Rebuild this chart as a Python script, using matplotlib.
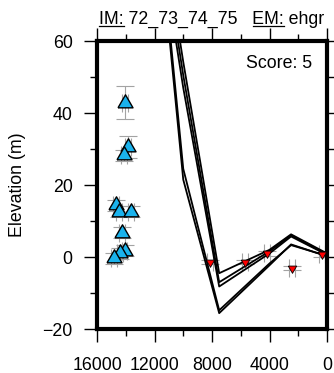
import matplotlib
matplotlib.use("Agg")
import matplotlib.pyplot as plt
from matplotlib.ticker import MultipleLocator
from matplotlib.lines import Line2D
import numpy as np

plt.rcParams['font.family'] = ['Liberation Sans', 'DejaVu Sans']
FS = 12.8

# Observed (blue) points
obs_dist = [14050, 13860, 14120, 14680, 14490, 13660, 14240, 14080, 14400, 14820]
obs_elev = [42.9, 30.6, 28.3, 14.4, 12.6, 12.6, 6.8, 1.8, 1.0, -0.4]
obs_yerr = [4.5, 3.0, 1.5, 1.5, 1.5, 1.5, 1.5, 1.5, 1.5, 1.5]
obs_xerr = [200] * 10

# Second data set (red)
pts_dist = [8140, 5700, 4200, 2410, 370]
pts_elev = [-1.4, -1.3, 1.0, -3.1, 0.7]
pts_yerr = [0.6, 0.6, 0.6, 0.6, 0.6]
pts_xerr = [200] * 5

# Model curves
curve_dist = [12000, 10000, 7500, 4000, 2500, 0]
curve_L1 = [103.5, 21.5, -15.6, -2.3, 3.5, 0.2]
curve_L2 = [106.0, 24.5, -14.8, -1.8, 3.3, 0.3]
curve_U1 = [105.0, 54.2, -4.5, 2.0, 6.3, 1.0]
curve_U2 = [101.5, 50.5, -7.0, 1.6, 6.0, 0.8]
curve_U3 = [98.0, 47.0, -8.2, 1.0, 5.7, 0.6]

title_im = "IM:"
title_mid = " 72_73_74_75   "
title_em = "EM:"
title_end = " ehgr"
score_text = "Score: 5"
ylabel = "Elevation (m)"

W, H = 334, 373
fig = plt.figure(figsize=(W / 100, H / 100), dpi=100)
ax = fig.add_axes([97 / W, 1 - 329 / H, 230 / W, 288 / H])

for c in [curve_L1, curve_L2, curve_U1, curve_U2, curve_U3]:
    ax.plot(curve_dist, c, color='black', lw=1.3, zorder=2)

ecol = '#a3a3a3'
ax.errorbar(obs_dist, obs_elev, xerr=obs_xerr, yerr=obs_yerr, fmt='none',
            ecolor=ecol, elinewidth=0.8, capsize=6.2, capthick=0.8, zorder=1.5)
ax.errorbar(pts_dist, pts_elev, xerr=pts_xerr, yerr=pts_yerr, fmt='none',
            ecolor=ecol, elinewidth=0.8, capsize=6.2, capthick=0.8, zorder=1.5)

up_tri = [(-1, -0.577), (1, -0.577), (0, 1.155), (-1, -0.577)]
down_tri = [(-1, 0.577), (1, 0.577), (0, -1.155), (-1, 0.577)]
ax.plot(obs_dist, obs_elev, linestyle='none', marker=up_tri, ms=12.5,
        mfc='#1ab2ec', mec='black', mew=1.0, zorder=3)
ax.plot(pts_dist, pts_elev, linestyle='none', marker=down_tri, ms=7.0,
        mfc='#ff0000', mec='black', mew=0.6, zorder=3)

ax.set_xlim(16000, 0)
ax.set_ylim(-20, 60)
ax.xaxis.set_major_locator(MultipleLocator(4000))
ax.xaxis.set_minor_locator(MultipleLocator(2000))
ax.yaxis.set_major_locator(MultipleLocator(20))
ax.yaxis.set_minor_locator(MultipleLocator(10))
ax.tick_params(which='both', direction='out', top=True, right=True,
               labeltop=False, labelright=False, width=1.0, labelsize=FS)
ax.tick_params(which='major', length=9.5)
ax.tick_params(which='minor', length=5)
ax.tick_params(axis='x', which='major', pad=10.5)
ax.tick_params(axis='y', which='major', pad=8)
ax.xaxis.set_major_formatter(plt.FuncFormatter(lambda v, p: f"{int(round(v))}"))
ax.yaxis.set_major_formatter(plt.FuncFormatter(lambda v, p: f"{int(round(v))}".replace('-', '\u2212')))
for s in ax.spines.values():
    s.set_linewidth(3.0)

ax.set_ylabel(ylabel, fontsize=FS, labelpad=12)
ax.text(0.935, 0.905, score_text, transform=ax.transAxes, ha='right',
        va='baseline', fontsize=FS)

# Title with underlined parts
fig.canvas.draw()
r = fig.canvas.get_renderer()

def tw(s):
    t = fig.text(0, 0, s, fontsize=FS)
    w = t.get_window_extent(r).width
    t.remove()
    return w

full = title_im + title_mid + title_em + title_end
w_full = tw(full)
w_im = tw(title_im)
w_em = tw(title_em)
em_start = tw(title_im + title_mid + title_em) - w_em
cx = (97 + 327) / 2
x0 = cx - w_full / 2
base_y = H - 24
fig.text(x0 / W, base_y / H, full, fontsize=FS, ha='left', va='baseline')
uy = (base_y - 2.2) / H
fig.add_artist(Line2D([x0 / W, (x0 + w_im) / W], [uy, uy], color='black', lw=0.9))
fig.add_artist(Line2D([(x0 + em_start) / W, (x0 + em_start + w_em) / W], [uy, uy],
                      color='black', lw=0.9))

fig.savefig("out.png", dpi=100)
